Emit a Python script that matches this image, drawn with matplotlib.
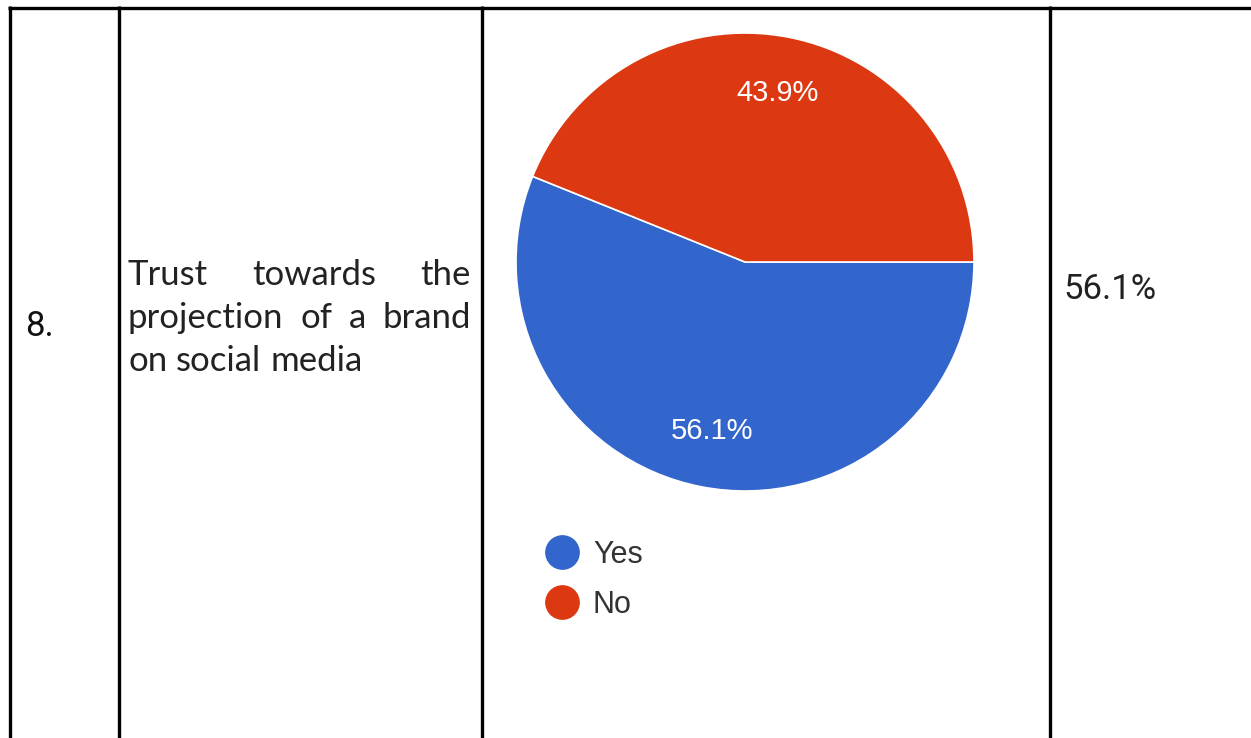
import matplotlib.pyplot as plt
from matplotlib.lines import Line2D

labels = ["Yes", "No"]
shares = [56.1, 43.9]
colors = ["#3366cc", "#dc3912"]
row_no = "8."
question = [["Trust", "towards", "the"],
            ["projection", "of", "a", "brand"],
            ["on", "social", "media"]]
answer = "56.1%"

W, H = 1251, 738
fig = plt.figure(figsize=(W / 100, H / 100), dpi=100)

# table frame drawn in pixel coordinates
tab = fig.add_axes([0, 0, 1, 1])
tab.set_xlim(0, W)
tab.set_ylim(H, 0)
tab.axis("off")
lw = 2.4
tab.plot([8, W], [7.5, 7.5], color="black", lw=lw, solid_capstyle="butt")
for x in [9.5, 118.5, 481.5, 1049.5]:
    tab.plot([x, x], [6, H], color="black", lw=lw, solid_capstyle="butt")

tab.text(25, 336, row_no, fontsize=25, family="Roboto", color="#111111",
         va="baseline", ha="left")
tab.text(1063, 299, answer, fontsize=25, family="Roboto",
         color="#222222", va="baseline", ha="left")

# justified question text
fig.canvas.draw()
r = fig.canvas.get_renderer()
x0, x1 = 128, 471
fs = 25
baselines = [285, 328, 371]
space = tab.text(0, 0, "a a", fontsize=fs, family="Lato").get_window_extent(r).width \
    - 2 * tab.text(0, 0, "a", fontsize=fs, family="Lato").get_window_extent(r).width
for t in tab.texts[2:]:
    t.remove()
for i, (words, y) in enumerate(zip(question, baselines)):
    objs = [tab.text(0, y, w, fontsize=fs, family="Lato", color="#222222",
                     va="baseline", ha="left") for w in words]
    widths = [o.get_window_extent(r).width for o in objs]
    if i < len(question) - 1:
        gap = (x1 - x0 - sum(widths)) / (len(words) - 1)
    else:
        gap = space
    x = x0
    for o, wd in zip(objs, widths):
        o.set_x(x)
        x += wd + gap

# pie
cx, cy, rad = 745, 262, 229
pie_ax = fig.add_axes([(cx - rad) / W, (H - cy - rad) / H, 2 * rad / W, 2 * rad / H])
wedges, _, autotexts = pie_ax.pie(
    shares, colors=colors, startangle=0, counterclock=False,
    autopct="%.1f%%", pctdistance=0.75,
    wedgeprops=dict(edgecolor="white", linewidth=1.2),
    textprops=dict(color="white", fontsize=21, family="Liberation Sans"))
pie_ax.set_xlim(-1, 1)
pie_ax.set_ylim(-1, 1)
pie_ax.set_aspect("equal")

handles = [Line2D([], [], marker="o", ls="", markersize=24, color=c) for c in colors]
leg = pie_ax.legend(handles, labels, loc="upper left",
                    bbox_to_anchor=(544 / W, 1 - 540 / H), bbox_transform=fig.transFigure,
                    frameon=False, handletextpad=0.4, labelspacing=0.65,
                    handlelength=1.2, borderpad=0, borderaxespad=0,
                    prop=dict(family="Liberation Sans", size=22))
for t in leg.get_texts():
    t.set_color("#333333")

fig.savefig("out.png", dpi=100)
